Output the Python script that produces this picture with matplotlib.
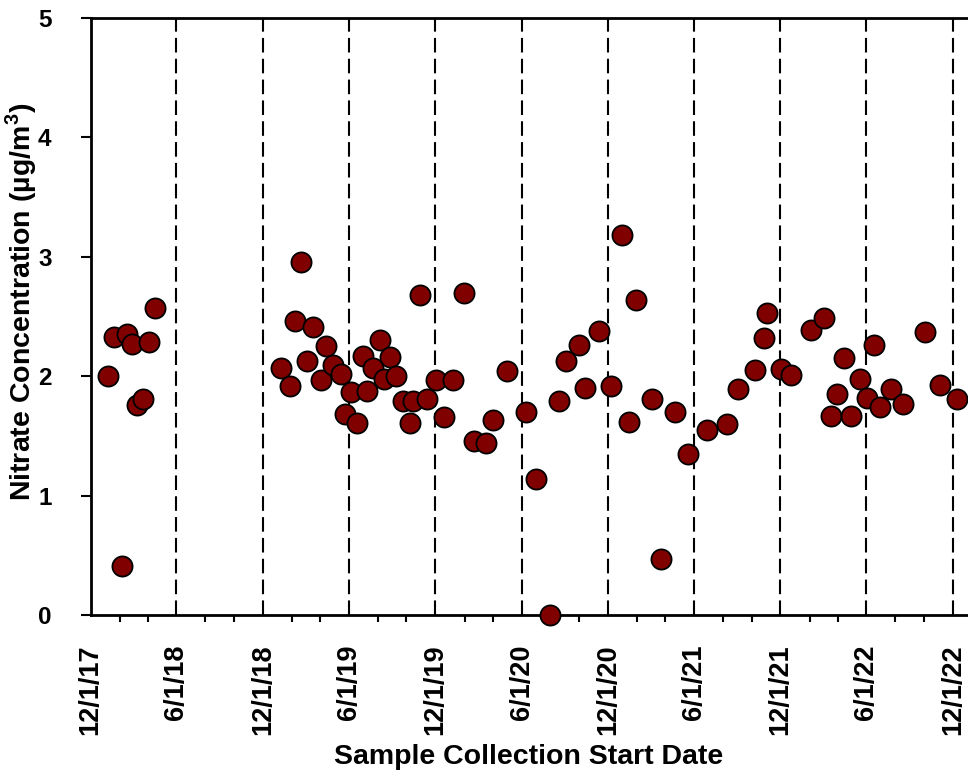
import pandas as pd
import matplotlib.pyplot as plt
import matplotlib.dates as mdates

plt.rcParams['font.family'] = ['Liberation Sans', 'DejaVu Sans']
plt.rcParams['font.weight'] = 'bold'
plt.rcParams['mathtext.fontset'] = 'custom'
plt.rcParams['mathtext.bf'] = 'Liberation Sans:bold'
plt.rcParams['mathtext.rm'] = 'Liberation Sans:bold'

# Sample start dates and nitrate concentrations (ug/m3)
dates = [
    "2018-01-08", "2018-01-19", "2018-02-06", "2018-02-17", "2018-02-27",
    "2018-03-09", "2018-03-22", "2018-04-03", "2018-04-17",
    "2019-01-08", "2019-01-27", "2019-02-07", "2019-02-19", "2019-03-05",
    "2019-03-17", "2019-04-02", "2019-04-13", "2019-04-29", "2019-05-15",
    "2019-05-23", "2019-06-05", "2019-06-18", "2019-06-30", "2019-07-10",
    "2019-07-22", "2019-08-07", "2019-08-14", "2019-08-27", "2019-09-08",
    "2019-09-23", "2019-10-08", "2019-10-15", "2019-10-29", "2019-11-14",
    "2019-12-02", "2019-12-20", "2020-01-08", "2020-01-31", "2020-02-20",
    "2020-03-18", "2020-04-01", "2020-04-30", "2020-06-11", "2020-07-02",
    "2020-07-30", "2020-08-19", "2020-09-02", "2020-10-01", "2020-10-14",
    "2020-11-11", "2020-12-08", "2020-12-31", "2021-01-14", "2021-01-30",
    "2021-03-03", "2021-03-24", "2021-04-21", "2021-05-19", "2021-06-29",
    "2021-08-10", "2021-09-03", "2021-10-09", "2021-10-27", "2021-11-03",
    "2021-12-02", "2021-12-24", "2022-02-03", "2022-03-04", "2022-03-17",
    "2022-03-31", "2022-04-14", "2022-04-30", "2022-05-19", "2022-06-03",
    "2022-06-16", "2022-06-30", "2022-07-24", "2022-08-17", "2022-10-04",
    "2022-11-04", "2022-12-10",
]
nitrate = [
    2.00, 2.33, 0.41, 2.35, 2.27,
    1.76, 1.81, 2.29, 2.57,
    2.07, 1.92, 2.46, 2.96, 2.13,
    2.41, 1.97, 2.25, 2.09, 2.02,
    1.68, 1.87, 1.61, 2.17, 1.88,
    2.07, 2.30, 1.98, 2.16, 2.00,
    1.79, 1.61, 1.79, 2.68, 1.81,
    1.97, 1.66, 1.97, 2.70, 1.46,
    1.44, 1.63, 2.04, 1.70, 1.14,
    0.00, 1.79, 2.13, 2.26, 1.90,
    2.38, 1.92, 3.18, 1.62, 2.64,
    1.81, 0.47, 1.70, 1.35, 1.55,
    1.60, 1.89, 2.05, 2.32, 2.53,
    2.06, 2.01, 2.39, 2.49, 1.67,
    1.85, 2.15, 1.67, 1.98, 1.82,
    2.26, 1.74, 1.89, 1.77, 2.37,
    1.93, 1.81,
]

df = pd.DataFrame({"date": pd.to_datetime(dates), "nitrate": nitrate})

fig = plt.figure(figsize=(9.68, 7.74), dpi=100)
ax = fig.add_axes([0.0935, 0.2054, 0.906, 0.7713])

ax.plot(df["date"], df["nitrate"], linestyle="none", marker="o",
        markersize=14.5, markerfacecolor="#800000", markeredgecolor="black",
        markeredgewidth=1.3, clip_on=False, zorder=5)

ax.set_xlim(pd.Timestamp("2017-12-01"), pd.Timestamp("2023-01-01"))
ax.set_ylim(0, 5)

# x ticks every 6 months, minor every 2 months
ax.xaxis.set_major_locator(mdates.MonthLocator(bymonth=[6, 12], bymonthday=1))
ax.xaxis.set_minor_locator(mdates.MonthLocator(bymonth=[2, 4, 8, 10], bymonthday=1))
ax.xaxis.set_major_formatter(mdates.DateFormatter("%-m/%-d/%y"))
ax.set_yticks([0, 1, 2, 3, 4, 5])

ax.grid(axis="x", which="major", color="black", linewidth=1.5,
        linestyle=(0, (7, 3)))

for lbl in ax.get_xticklabels():
    lbl.set_rotation(90)
ax.tick_params(axis="x", which="major", length=0, pad=21, labelsize=19.5)
ax.tick_params(axis="x", which="minor", direction="out", length=5, width=1.5)
ax.tick_params(axis="y", direction="out", length=7, width=1.5, pad=21,
               labelsize=17.5)

ax.spines["right"].set_visible(False)
for side in ["left", "bottom", "top"]:
    ax.spines[side].set_linewidth(2)

ax.set_xlabel("Sample Collection Start Date", fontsize=20.5, fontweight="bold")
ax.set_ylabel(r"Nitrate Concentration (µg/m$^{\mathbf{3}}$)", fontsize=20.5,
              fontweight="bold")
ax.xaxis.set_label_coords(0.5, -0.238)
ax.xaxis.label.set_va("center")
ax.yaxis.set_label_coords(-0.079, 0.525)
ax.yaxis.label.set_va("center")

fig.savefig("out.png", dpi=100)
